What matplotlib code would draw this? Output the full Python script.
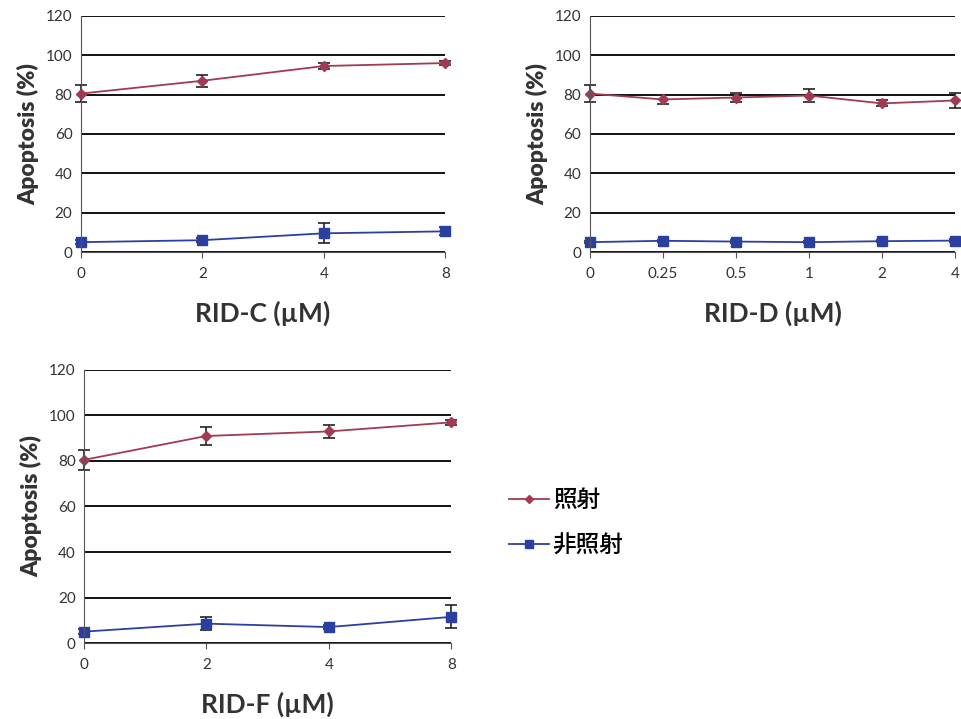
import matplotlib
matplotlib.use("Agg")
import matplotlib.pyplot as plt
from matplotlib.lines import Line2D

plt.rcParams['font.family'] = ['Lato', 'Noto Sans CJK JP', 'DejaVu Sans']

# panel C
c_labels = ['0', '2', '4', '8']
c_irr = [80.5, 87, 94.5, 96]
c_irr_err = [4.5, 3, 1.5, 1]
c_non = [5, 6, 9.5, 10.5]
c_non_err = [1, 1, 5, 2]

# panel D
d_labels = ['0', '0.25', '0.5', '1', '2', '4']
d_irr = [80.5, 77.5, 78.5, 79.5, 75.5, 77]
d_irr_err = [4.5, 2.5, 2.5, 3.5, 1.5, 4]
d_non = [5, 5.7, 5.3, 5, 5.5, 5.8]
d_non_err = [0.6, 0.6, 0.6, 0.6, 0.6, 0.6]

# panel F
f_labels = ['0', '2', '4', '8']
f_irr = [80.5, 91, 93, 97]
f_irr_err = [4.5, 4, 3, 1]
f_non = [5, 8.5, 7, 11.5]
f_non_err = [1, 3, 1, 5]

red = '#a23a52'
blue = '#2b3fa0'

fig = plt.figure(figsize=(9.62, 7.19), dpi=100)


def panel(rect, labels, irr, irr_err, non, non_err, xlabel):
    ax = fig.add_axes(rect)
    x = list(range(len(labels)))
    ax.errorbar(x, irr, yerr=irr_err, color=red, marker='D', markersize=5,
                lw=1.3, ecolor='#222222', elinewidth=1.2, capsize=4, capthick=1.2)
    ax.errorbar(x, non, yerr=non_err, color=blue, marker='s', markersize=6.5,
                lw=1.3, ecolor='#222222', elinewidth=1.2, capsize=4, capthick=1.2)
    ax.set_xlim(0, len(labels) - 1)
    ax.set_ylim(0, 120)
    ax.set_yticks(range(0, 121, 20))
    ax.set_xticks(x)
    ax.set_xticklabels(labels)
    ax.yaxis.grid(True, color='#111111', lw=1.4)
    ax.set_axisbelow(True)
    for s in ['top', 'right']:
        ax.spines[s].set_visible(False)
    ax.spines['bottom'].set_color('#555555')
    ax.spines['left'].set_color('#555555')
    ax.tick_params(axis='y', length=0, labelsize=11, labelcolor='#333333', pad=6)
    ax.tick_params(axis='x', length=4, color='#555555', labelsize=11,
                   labelcolor='#333333', pad=7)
    for ln in ax.lines:
        ln.set_clip_on(False)
    for coll in ax.collections:
        coll.set_clip_on(False)
    ax.set_ylabel('Apoptosis (%)', fontsize=16.5, fontweight='heavy', color='#333333',
                  labelpad=5)
    ax.set_xlabel(xlabel, fontsize=19, fontweight='bold', color='#333333', labelpad=14)
    return ax


panel([0.084, 0.6495, 0.379, 0.3285], c_labels, c_irr, c_irr_err, c_non, c_non_err,
      'RID-C (µM)')
panel([0.613, 0.6495, 0.380, 0.3285], d_labels, d_irr, d_irr_err, d_non, d_non_err,
      'RID-D (µM)')
panel([0.0873, 0.1057, 0.382, 0.3797], f_labels, f_irr, f_irr_err, f_non, f_non_err,
      'RID-F (µM)')

handles = [Line2D([], [], color=red, marker='D', markersize=4.5, lw=1.3),
           Line2D([], [], color=blue, marker='s', markersize=5.5, lw=1.3)]
fig.legend(handles, ['照射', '非照射'], loc='upper left', bbox_to_anchor=(0.507, 0.349),
           frameon=False, handlelength=1.7, handletextpad=0.15, labelspacing=0.95,
           prop={'family': ['Noto Sans CJK JP', 'DejaVu Sans'], 'size': 17,
                 'weight': 'medium'})

fig.savefig('out.png', dpi=100)
